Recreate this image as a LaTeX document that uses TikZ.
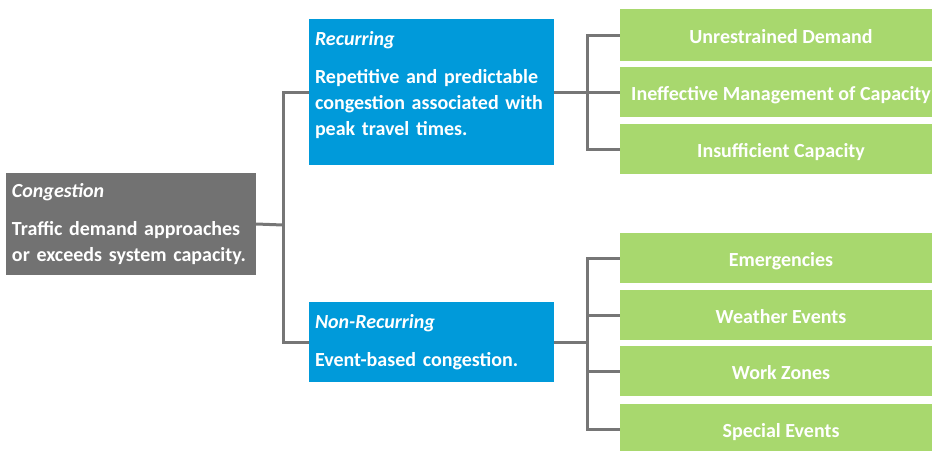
\documentclass[tikz,border=0pt]{standalone}
\usepackage{fontspec}
\setmainfont{Carlito}
\definecolor{congray}{HTML}{727272}
\definecolor{conblue}{HTML}{009ADA}
\definecolor{congreen}{HTML}{A8D86E}
\definecolor{linkgray}{HTML}{767676}
\tikzset{
 kindbox/.style={rectangle,fill=#1,text=white,inner xsep=6pt,inner ysep=0pt,align=left},
 causebox/.style={rectangle,fill=congreen,text=white,align=center,minimum width=322pt,minimum height=50pt,inner sep=0pt,text height=17pt,text depth=0pt},
 link/.style={draw=linkgray,line width=3pt}
}
\begin{document}
\begin{tikzpicture}[x=1pt,y=-1pt,font=\bfseries\fontsize{20}{26}\selectfont]
\useasboundingbox (0,0) rectangle (932,450);
\clip (0,0) rectangle (932,450);
\node [kindbox=congray,text width=238pt,minimum height=102pt] (cong) at (131,224)
 {\textit{Congestion}\\[12pt]Traffic demand approaches\\or exceeds system capacity.};
\node [kindbox=conblue,text width=233pt,minimum height=146pt] (rec) at (431.5,92)
 {\textit{Recurring}\\[12pt]Repetitive and predictable\\congestion associated with\\peak travel times.\par\vspace{14pt}};
\node [kindbox=conblue,text width=233pt,minimum height=80pt] (nonrec) at (431.5,342)
 {\textit{Non-Recurring}\\[12pt]Event-based congestion.};
\node [causebox,minimum height=52pt] (unres) at (781,35) {Unrestrained Demand};
\node [causebox] (ineff) at (781,92) {Ineffective Management of Capacity};
\node [causebox] (insuf) at (781,149) {Insufficient Capacity};
\node [causebox] (emerg) at (781,258) {Emergencies};
\node [causebox] (weather) at (781,315) {Weather Events};
\node [causebox] (work) at (781,371) {Work Zones};
\node [causebox] (special) at (781,429) {Special Events};
\coordinate (split) at (283,225);
\draw [link] (cong.east) -- (split);
\draw [link] (rec.west) -| (split);
\draw [link] (nonrec.west) -| (split);
\coordinate (recsplit) at (587,92);
\draw [link] (rec.east) -- (ineff.west);
\foreach \n in {unres,insuf} \draw [link] (\n.west) -| (recsplit);
\coordinate (nonsplit) at (587,342);
\draw [link] (nonrec.east) -- (nonsplit);
\foreach \n in {emerg,weather,work,special} \draw [link] (\n.west) -| (nonsplit);
\end{tikzpicture}
\end{document}
